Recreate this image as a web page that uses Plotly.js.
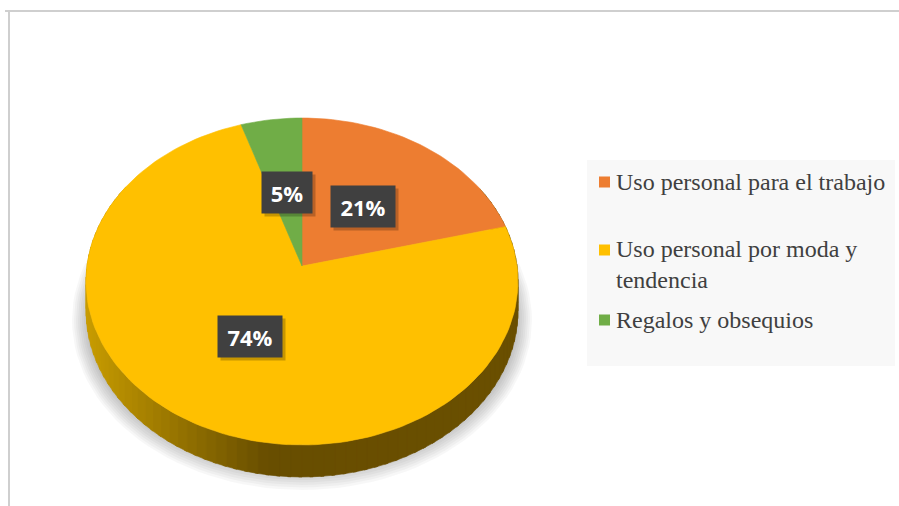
<!DOCTYPE html>
<html>
<head>
<meta charset="utf-8">
<script src="https://cdn.plot.ly/plotly-3.0.1.min.js"></script>
<style>html,body{margin:0;padding:0;background:#fff;}#chart{width:899px;height:506px;}</style>
</head>
<body>
<div id="chart"></div>
<script>
// ---- data ----
const categories = ["Uso personal para el trabajo", "Uso personal por moda y tendencia", "Regalos y obsequios"];
const legendLabels = ["Uso personal para el trabajo", "Uso personal por moda y<br>tendencia", "Regalos y obsequios"];
const values = [21, 74, 5];
const percentLabels = ["21%", "74%", "5%"];
const colors = ["#ED7D31", "#FFC000", "#70AD47"];

// ---- geometry / style (pixel space of the axes) ----
const W = 899, H = 506;
const cx = 302, cy = 266, A = 215, B = 162, K = 0.0948, DEPTH = 29;

function proj(theta, r, drop) {
  const u = r * Math.sin(theta), v = -r * Math.cos(theta);
  const den = 1 - K * v;
  return [cx + A * u / den, cy + (B * v + (drop || 0)) / den];
}

const traces = [];

// soft shadow under the pie
for (let i = 8; i >= 1; i--) {
  const rx = 214 + 2 * i, ry = 150 + 2.5 * i, sx = [], sy = [];
  for (let t = 0; t <= 120; t++) {
    const a = t / 120 * 2 * Math.PI;
    sx.push(cx + rx * Math.cos(a)); sy.push(320 + ry * Math.sin(a));
  }
  traces.push({x: sx, y: sy, type: 'scatter', mode: 'lines', fill: 'toself',
    fillcolor: 'rgba(0,0,0,0.03)', line: {width: 0}, hoverinfo: 'skip', showlegend: false});
}

// side wall with gradient
function hex(c) { return [parseInt(c.slice(1,3),16), parseInt(c.slice(3,5),16), parseInt(c.slice(5,7),16)]; }
const stops = [[86, '#C89C00'], [190, '#8E6D00'], [265, '#684E00'], [520, '#6A4F00']];
function sideColor(x) {
  if (x <= stops[0][0]) return stops[0][1];
  for (let i = 0; i < stops.length - 1; i++) {
    if (x <= stops[i+1][0]) {
      const f = (x - stops[i][0]) / (stops[i+1][0] - stops[i][0]);
      const a = hex(stops[i][1]), b = hex(stops[i+1][1]);
      return 'rgb(' + a.map((v, j) => Math.round(v + (b[j] - v) * f)).join(',') + ')';
    }
  }
  return stops[stops.length - 1][1];
}
const nSide = 90, th0 = Math.PI / 3, th1 = 5 * Math.PI / 3;
for (let i = 0; i < nSide; i++) {
  const a0 = th0 + (th1 - th0) * i / nSide, a1 = th0 + (th1 - th0) * (i + 1.3) / nSide;
  const p0 = proj(a0, 1), p1 = proj(a1, 1), q1 = proj(a1, 1, DEPTH), q0 = proj(a0, 1, DEPTH);
  const col = sideColor((p0[0] + p1[0]) / 2);
  traces.push({x: [p0[0], p1[0], q1[0], q0[0], p0[0]], y: [p0[1], p1[1], q1[1], q0[1], p0[1]],
    type: 'scatter', mode: 'lines', fill: 'toself', fillcolor: col, line: {width: 0.6, color: col},
    hoverinfo: 'skip', showlegend: false});
}

// top face slices (clockwise from 12 o'clock)
const total = values.reduce((s, v) => s + v, 0);
let start = 0;
const mids = [];
values.forEach((v, i) => {
  const a0 = start, a1 = start + v / total * 2 * Math.PI;
  const xs = [cx], ys = [cy];
  const n = Math.max(4, Math.ceil(v / total * 200));
  for (let t = 0; t <= n; t++) {
    const p = proj(a0 + (a1 - a0) * t / n, 1);
    xs.push(p[0]); ys.push(p[1]);
  }
  xs.push(cx); ys.push(cy);
  traces.push({x: xs, y: ys, type: 'scatter', mode: 'lines', fill: 'toself', name: categories[i],
    fillcolor: colors[i], line: {width: 0.6, color: colors[i]}, hoverinfo: 'name', showlegend: false});
  mids.push((a0 + a1) / 2);
  start = a1;
});

// data labels
const annotations = [];
values.forEach((v, i) => {
  const p = proj(mids[i], 0.48);
  const w = 22 + 14 * percentLabels[i].length;
  annotations.push({x: p[0], y: p[1], xref: 'x', yref: 'y', text: '', showarrow: false,
    width: w, height: 41, borderpad: 0, bgcolor: 'rgba(0,0,0,0.22)', xshift: 3, yshift: -3});
  annotations.push({x: p[0], y: p[1], xref: 'x', yref: 'y', text: '<b>' + percentLabels[i] + '</b>',
    showarrow: false, width: w, height: 41, borderpad: 0, bgcolor: '#404040',
    font: {family: 'Open Sans, sans-serif', size: 22, color: '#FFFFFF'}});
});

// legend (custom)
const legendRowsY = [182, 264, 320];
const shapes = [
  {type: 'line', xref: 'x', yref: 'y', x0: 5, x1: W, y0: 11, y1: 11, line: {color: '#CFCFCF', width: 2}},
  {type: 'line', xref: 'x', yref: 'y', x0: 9, x1: 9, y0: 11, y1: H, line: {color: '#CFCFCF', width: 2}},
  {type: 'rect', xref: 'x', yref: 'y', x0: 587, x1: 895, y0: 160, y1: 366, fillcolor: '#F8F8F8', line: {width: 0}, layer: 'below'}
];
categories.forEach((c, i) => {
  const y = legendRowsY[i] + (i === 1 ? -14 : 0);
  shapes.push({type: 'rect', xref: 'x', yref: 'y', x0: 599, x1: 610, y0: y - 5.5, y1: y + 5.5,
    fillcolor: colors[i], line: {width: 0}});
  annotations.push({x: 614, y: legendRowsY[i], xref: 'x', yref: 'y', xanchor: 'left', yanchor: 'middle',
    align: 'left', text: legendLabels[i], showarrow: false,
    font: {family: 'Liberation Serif, Times New Roman, serif', size: 24, color: '#404040'}});
});

const layout = {
  width: W, height: H, autosize: false,
  margin: {l: 0, r: 0, t: 0, b: 0},
  paper_bgcolor: '#FFFFFF', plot_bgcolor: '#FFFFFF',
  xaxis: {range: [0, W], visible: false, fixedrange: true},
  yaxis: {range: [H, 0], visible: false, fixedrange: true},
  showlegend: false,
  shapes: shapes,
  annotations: annotations
};

Plotly.newPlot('chart', traces, layout, {displayModeBar: false, staticPlot: true});
</script>
</body>
</html>
